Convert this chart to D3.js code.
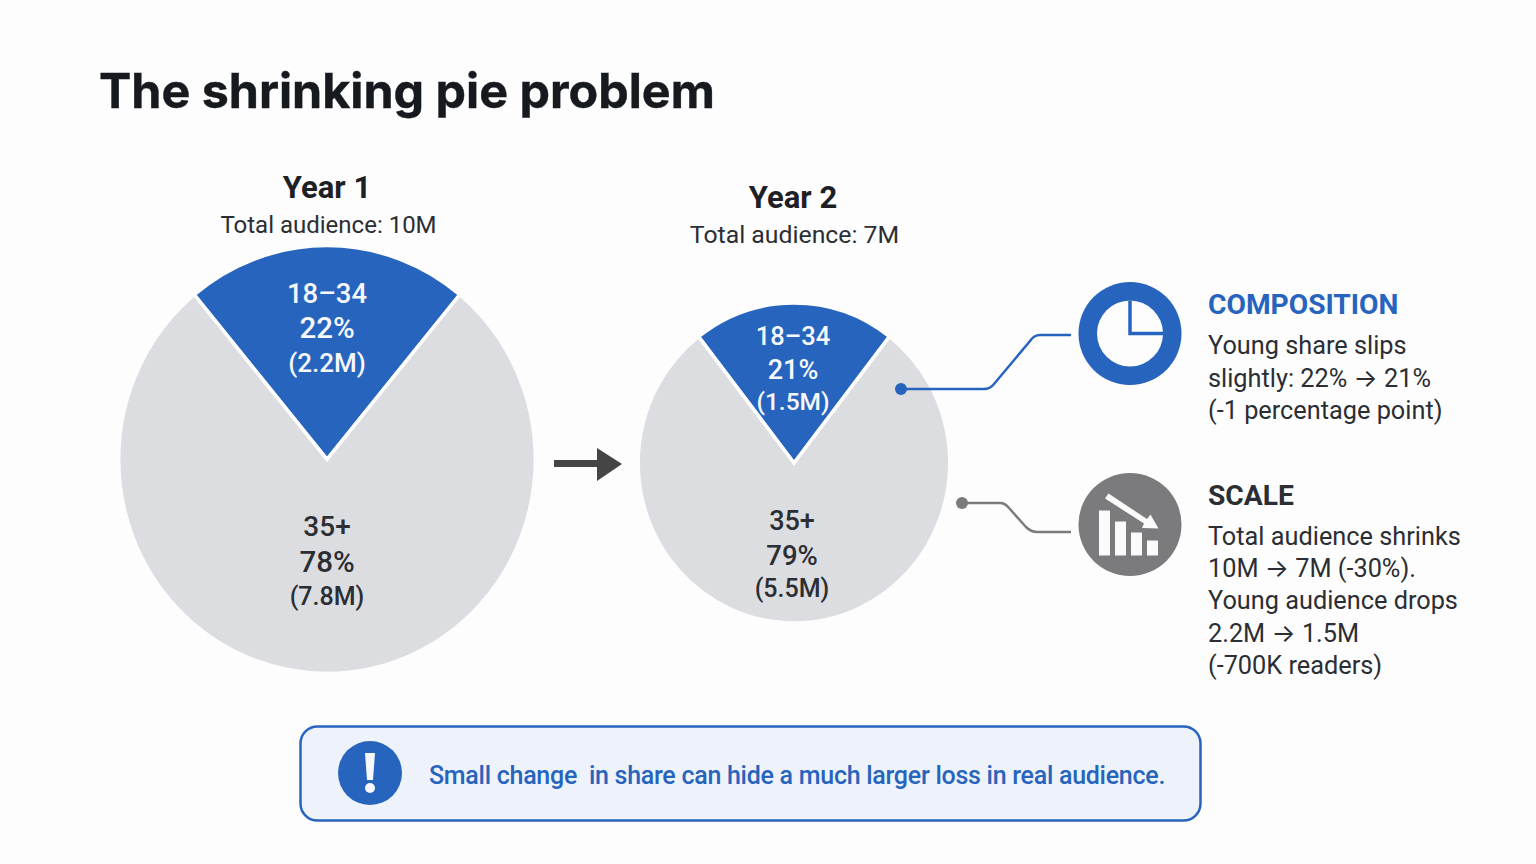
<!DOCTYPE html>
<html>
<head>
<meta charset="utf-8">
<script src="https://cdn.jsdelivr.net/npm/d3@7"></script>
<style>
  html, body { margin: 0; padding: 0; background: #fdfdfe; overflow: hidden; }
  svg { display: block; }
  text { font-family: Roboto, "Noto Sans", sans-serif; white-space: pre; }
</style>
</head>
<body>
<svg id="chart" width="1536" height="864"></svg>
<script>
// Audience figures per year
const years = ["Year 1", "Year 2"];
const totals = [10, 7];
const totalLabels = ["Total audience: 10M", "Total audience: 7M"];
const segments = ["18–34", "35+"];
const sharesY1 = [22, 78];
const sharesY2 = [21, 79];
const millionsY1 = [2.2, 7.8];
const millionsY2 = [1.5, 5.5];

const compositionLines = ["Young share slips", "slightly: 22% → 21%", "(-1 percentage point)"];
const scaleLines = ["Total audience shrinks", "10M → 7M (-30%).", "Young audience drops", "2.2M → 1.5M", "(-700K readers)"];
const calloutText = "Small change  in share can hide a much larger loss in real audience.";

const BLUE = "#2764bd", GREY = "#dcdde1", INK = "#1d2126", ICON = "#7b7b7d";

const svg = d3.select("#chart");

svg.append("text").attr("x", 99).attr("y", 108)
  .style("font-family", "Inter, Roboto, sans-serif")
  .attr("font-size", 48.4).attr("font-weight", 700).attr("fill", "#16191d")
  .attr("stroke", "#16191d").attr("stroke-width", 0.4)
  .text("The shrinking pie problem");

// Pie radius follows total audience; horizontal placement is by year
const radius = d3.scaleLinear().domain([7, 10]).range([155.8, 208.3]);
const cx = d3.scalePoint().domain(years).range([327, 794]);
const cy = d3.scaleOrdinal().domain(years).range([459.5, 463]);
const fill = d3.scaleOrdinal().domain(segments).range([BLUE, GREY]);
const labelColor = d3.scaleOrdinal().domain(segments).range(["#f6f8fc", "#2b2e33"]);

const pieFor = share => d3.pie().sort(null).value(d => d)
  // keep the younger slice centred on twelve o'clock
  .startAngle(-share * Math.PI / 100)
  .endAngle(2 * Math.PI - share * Math.PI / 100);

const yearRows = years.map((y, i) => ({
  year: y, total: totals[i], totalLabel: totalLabels[i],
  shares: [sharesY1, sharesY2][i], millions: [millionsY1, millionsY2][i]
}));

// Per-pie, per-segment label settings: baselines from the pie centre, x offset, type sizes
const labelBaselines = [
  [[-157, -122, -88], [76, 112, 145]],
  [[-118, -84, -53], [67, 102, 134]]
];
const labelShift = [[0, 0], [-1, -2]];
const labelSizes = [
  [[27.5, 29.5, 26], [28, 29.5, 25]],
  [[25.5, 27, 24.5], [27, 27.5, 25]]
];

yearRows.forEach((row, i) => {
  const x = cx(row.year), y = cy(row.year), r = radius(row.total);
  const g = svg.append("g").attr("transform", `translate(${x},${y})`);
  const arc = d3.arc().innerRadius(0).outerRadius(r);

  g.append("g").attr("transform", "scale(1,1.027)")
    .selectAll("path")
    .data(pieFor(row.shares[0])(row.shares))
    .join("path")
    .attr("d", arc)
    .attr("fill", (d, j) => fill(segments[j]))
    .attr("stroke", "#fdfdfe")
    .attr("stroke-width", 3.5)
    .attr("stroke-linejoin", "miter");

  segments.forEach((seg, j) => {
    const lines = [seg, `${row.shares[j]}%`, `(${row.millions[j].toFixed(1)}M)`];
    g.selectAll(null).data(lines).join("text")
      .attr("x", labelShift[i][j])
      .attr("y", (d, k) => labelBaselines[i][j][k])
      .attr("text-anchor", "middle")
      .attr("font-size", (d, k) => labelSizes[i][j][k])
      .attr("font-weight", 500)
      .attr("fill", labelColor(seg))
      .text(d => d);
  });

  const headY = [198, 208][i];
  const headX = [327, 793][i];
  svg.append("text").attr("x", headX).attr("y", headY).attr("text-anchor", "middle")
    .attr("font-size", 31).attr("font-weight", 700).attr("fill", INK).text(row.year);
  svg.append("text").attr("x", headX + 1.5).attr("y", headY + 35).attr("text-anchor", "middle")
    .attr("font-size", [24, 24.8][i]).attr("fill", "#2b2e33").text(row.totalLabel);
});

// Arrow between the two pies
svg.append("path")
  .attr("d", "M554,460H597V448L622,464L597,481V467H554Z")
  .attr("fill", "#454545");

// Connector lines
svg.append("path")
  .attr("d", "M901,389H984Q990,389 994,384L1030,341Q1034,335 1040,335H1071")
  .attr("fill", "none").attr("stroke", BLUE).attr("stroke-width", 2.5);
svg.append("circle").attr("cx", 901).attr("cy", 389).attr("r", 6).attr("fill", BLUE);
svg.append("path")
  .attr("d", "M962,503H1000Q1005,503 1009,508L1026,527Q1031,532 1037,532H1071")
  .attr("fill", "none").attr("stroke", ICON).attr("stroke-width", 2.5);
svg.append("circle").attr("cx", 962).attr("cy", 503).attr("r", 6).attr("fill", ICON);

// Composition icon: ring with a quarter wedge outlined
const ring = svg.append("g").attr("transform", "translate(1130,333.5)");
ring.append("circle").attr("r", 51.5).attr("fill", BLUE);
ring.append("circle").attr("r", 33).attr("fill", "#fdfdfe");
ring.append("path").attr("d", "M0,-33V0H33").attr("fill", "none").attr("stroke", BLUE).attr("stroke-width", 3.5);

// Scale icon: falling bars with a downward arrow
const drop = svg.append("g").attr("transform", "translate(1130,524.5)");
drop.append("circle").attr("r", 51.5).attr("fill", ICON);
drop.append("g").attr("fill", "#fafafa").selectAll("rect")
  .data([[-31, -14, 11, 45], [-15, -3, 11, 34], [1, 8, 11, 23], [17, 16, 11, 15]])
  .join("rect")
  .attr("x", d => d[0]).attr("y", d => d[1]).attr("width", d => d[2]).attr("height", d => d[3]);
drop.append("path")
  .attr("d", "M-21.5,-31L17,-5.5L20.5,-10L28.5,4L12,3.5L14,-1L-25,-26Z")
  .attr("fill", "#fafafa");

// Multi-line text whose arrows are set in a face with a wider arrow glyph
function writeLine(sel, line) {
  line.split(/(→)/).forEach(part => {
    const t = sel.append("tspan").text(part);
    if (part === "→") t.style("font-family", "Inter, sans-serif");
  });
}

// Side notes
function note(x, headY, head, color, lines, firstY, step) {
  svg.append("text").attr("x", x).attr("y", headY)
    .attr("font-size", 28.2).attr("font-weight", 700).attr("fill", color).text(head);
  svg.selectAll(null).data(lines).join("text")
    .attr("x", x).attr("y", (d, i) => firstY + i * step)
    .attr("font-size", 25.3).attr("fill", "#2b2e33")
    .each(function (d) { writeLine(d3.select(this), d); });
}
note(1208, 313.5, "COMPOSITION", BLUE, compositionLines, 354, 32.5);
note(1208, 504.5, "SCALE", "#2b2e33", scaleLines, 545, 32.2);

// Takeaway callout
svg.append("rect").attr("x", 300.5).attr("y", 726.5).attr("width", 900).attr("height", 94).attr("rx", 17)
  .attr("fill", "#eef3fb").attr("stroke", BLUE).attr("stroke-width", 2.5);
const alert = svg.append("g").attr("transform", "translate(370,773)");
alert.append("circle").attr("r", 32).attr("fill", BLUE);
alert.append("path").attr("d", "M-5,-20H5L3,7H-3Z").attr("fill", "#f6f8fc");
alert.append("circle").attr("cy", 15).attr("r", 5).attr("fill", "#f6f8fc");
svg.append("text").attr("x", 429).attr("y", 784)
  .attr("font-size", 25).attr("font-weight", 500).attr("letter-spacing", -0.27).attr("fill", BLUE).text(calloutText);
</script>
</body>
</html>
